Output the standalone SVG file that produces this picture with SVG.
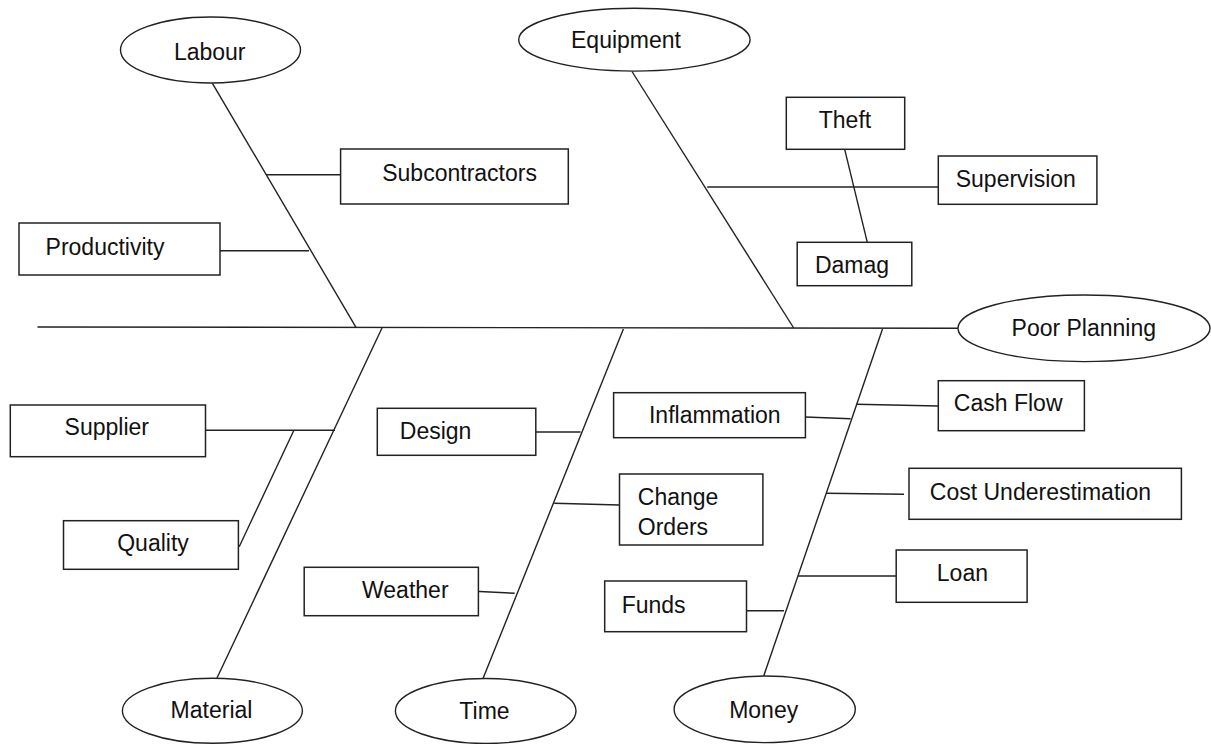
<svg xmlns="http://www.w3.org/2000/svg" width="1211" height="744" viewBox="0 0 1211 744">
<style>
.bx{fill:#fff;stroke:#222;stroke-width:1.5}
.el{fill:#fff;stroke:#222;stroke-width:1.4}
.ln{stroke:#222;stroke-width:1.4;fill:none}
text{font-family:"Liberation Sans",Arial,sans-serif;font-size:23px;fill:#111;text-anchor:middle}
.l{text-anchor:start}
</style>
<rect width="1211" height="744" fill="#fff"/>
<g id="connectors">
<line class="ln" x1="37.5" y1="327" x2="958" y2="328.3"/>
<line class="ln" x1="212.4" y1="83.3" x2="356" y2="327.3"/>
<line class="ln" x1="632" y1="71.5" x2="793.7" y2="328"/>
<line class="ln" x1="382" y1="328" x2="217" y2="678"/>
<line class="ln" x1="623.4" y1="329" x2="483" y2="678.5"/>
<line class="ln" x1="882.5" y1="329" x2="763.7" y2="676"/>
<line class="ln" x1="266" y1="174.7" x2="340.6" y2="174.7"/>
<line class="ln" x1="220" y1="250.7" x2="309" y2="250.7"/>
<line class="ln" x1="707.2" y1="187" x2="938.3" y2="187"/>
<line class="ln" x1="844.7" y1="149.3" x2="867.3" y2="242.3"/>
<line class="ln" x1="205.5" y1="430.3" x2="335" y2="430.3"/>
<line class="ln" x1="293.9" y1="430.3" x2="239.2" y2="546.7"/>
<line class="ln" x1="535.8" y1="432" x2="580.6" y2="432"/>
<line class="ln" x1="554.2" y1="503.3" x2="619.5" y2="505"/>
<line class="ln" x1="474.6" y1="591.3" x2="514.7" y2="593.3"/>
<line class="ln" x1="805.4" y1="417" x2="850.6" y2="418.7"/>
<line class="ln" x1="856.4" y1="404.3" x2="938.3" y2="406"/>
<line class="ln" x1="826" y1="493.3" x2="904" y2="494.3"/>
<line class="ln" x1="798" y1="576" x2="896.2" y2="576"/>
<line class="ln" x1="746.5" y1="610.7" x2="784" y2="610.7"/>
</g>
<g id="labour"><ellipse class="el" cx="210.5" cy="50" rx="90" ry="33"/><text x="209.7" y="60">Labour</text></g>
<g id="equipment"><ellipse class="el" cx="634.4" cy="39.7" rx="115.7" ry="31.4"/><text x="626" y="48">Equipment</text></g>
<g id="poor-planning"><ellipse class="el" cx="1084" cy="328.3" rx="126" ry="33.3"/><text x="1083.8" y="336">Poor Planning</text></g>
<g id="material"><ellipse class="el" cx="212.4" cy="710.8" rx="90" ry="32.5"/><text x="211.5" y="717.5">Material</text></g>
<g id="time"><ellipse class="el" cx="485.7" cy="711" rx="90.3" ry="32.5"/><text x="484.5" y="719">Time</text></g>
<g id="money"><ellipse class="el" cx="764.7" cy="709.3" rx="90.6" ry="33.3"/><text x="763.7" y="718">Money</text></g>
<g id="subcontractors"><rect class="bx" x="340.6" y="149" width="227.7" height="55"/><text x="459.6" y="180.5">Subcontractors</text></g>
<g id="productivity"><rect class="bx" x="19" y="223" width="201" height="52"/><text x="105" y="254.7">Productivity</text></g>
<g id="theft"><rect class="bx" x="786.3" y="97.3" width="118.4" height="52"/><text x="845" y="128">Theft</text></g>
<g id="supervision"><rect class="bx" x="938.3" y="156" width="158.6" height="48.3"/><text x="1015.8" y="187">Supervision</text></g>
<g id="damag"><rect class="bx" x="797.2" y="242.3" width="114.6" height="43.4"/><text x="852" y="273">Damag</text></g>
<g id="supplier"><rect class="bx" x="10.3" y="405" width="195.2" height="51.7"/><text x="106.8" y="435.3">Supplier</text></g>
<g id="quality"><rect class="bx" x="63.5" y="520.7" width="174.9" height="48.6"/><text x="153" y="551.3">Quality</text></g>
<g id="design"><rect class="bx" x="377.3" y="408.3" width="158.5" height="47"/><text x="435.6" y="439">Design</text></g>
<g id="weather"><rect class="bx" x="304.2" y="567.3" width="174.2" height="48.4"/><text x="405.3" y="598">Weather</text></g>
<g id="inflammation"><rect class="bx" x="613.6" y="392.7" width="191.8" height="45"/><text x="714.8" y="423">Inflammation</text></g>
<g id="cash-flow"><rect class="bx" x="938.3" y="380.7" width="146.1" height="50"/><text x="1008.2" y="411.3">Cash Flow</text></g>
<g id="change-orders"><rect class="bx" x="619.5" y="474" width="143.4" height="71"/><text class="l" x="637.8" y="504.7">Change</text><text class="l" x="637.8" y="535.3">Orders</text></g>
<g id="cost-underestimation"><rect class="bx" x="909" y="468.3" width="272.4" height="51"/><text x="1040.4" y="499.7">Cost Underestimation</text></g>
<g id="loan"><rect class="bx" x="896.2" y="550" width="130.9" height="52.3"/><text x="962.4" y="581.3">Loan</text></g>
<g id="funds"><rect class="bx" x="604.7" y="581" width="141.8" height="50.7"/><text x="653.6" y="613">Funds</text></g>
</svg>
